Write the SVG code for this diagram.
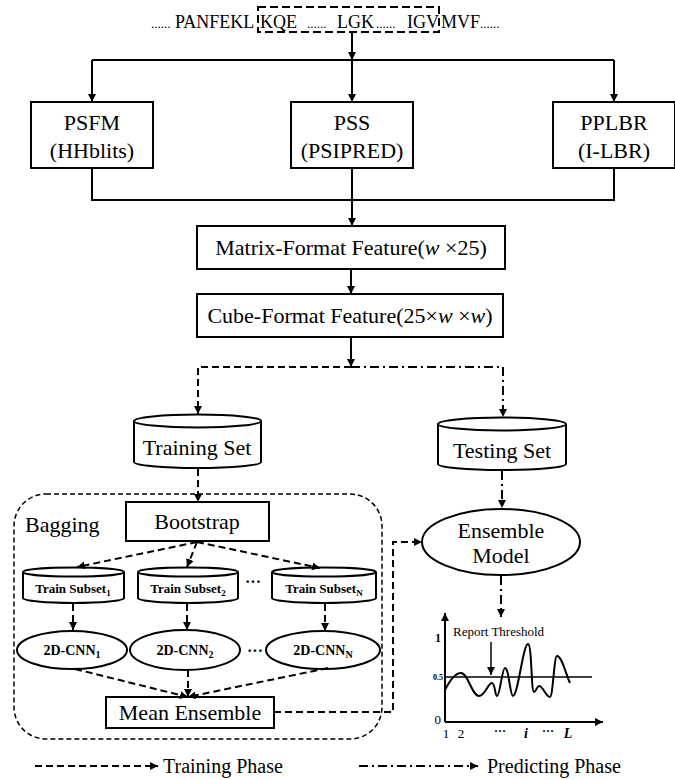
<svg xmlns="http://www.w3.org/2000/svg" width="675" height="780" viewBox="0 0 675 780">
<style>
text{font-family:"Liberation Serif","Times New Roman",serif;fill:#000}
.box{fill:#fff;stroke:#000;stroke-width:2}
.ln{fill:none;stroke:#000;stroke-width:2}
.dash{fill:none;stroke:#000;stroke-width:2;stroke-dasharray:7 4}
.dd{fill:none;stroke:#000;stroke-width:2;stroke-dasharray:9 4 2 4}
.t22{font-size:22px;text-anchor:middle}
.sb{font-size:13px;font-weight:bold;text-anchor:middle}
.cb{font-size:14px;font-weight:bold;text-anchor:middle}
</style>
<defs>
<marker id="ah" viewBox="0 0 10 10" refX="10" refY="5" markerWidth="8" markerHeight="8" markerUnits="userSpaceOnUse" orient="auto"><path d="M0,0 L10,5 L0,10 z" fill="#000"/></marker>
</defs>

<g id="sequence">
<text font-size="18" y="28"><tspan x="151" font-size="13">......</tspan><tspan x="175">PANFEKL</tspan><tspan x="260">KQE</tspan><tspan x="307" font-size="13">......</tspan><tspan x="337">LGK</tspan><tspan x="376" font-size="13">......</tspan><tspan x="407">IGV</tspan><tspan x="441">MVF</tspan><tspan x="480" font-size="13">......</tspan></text>
<rect x="258" y="7" width="181" height="25" fill="none" stroke="#000" stroke-width="2" stroke-dasharray="8 4"/>
</g>

<g id="psfm"><rect class="box" x="31" y="102" width="122" height="66"/><text class="t22" x="92" y="130">PSFM</text><text class="t22" x="92" y="158">(HHblits)</text></g>
<g id="pss"><rect class="box" x="291" y="102" width="122" height="66"/><text class="t22" x="352" y="130">PSS</text><text class="t22" x="352" y="158">(PSIPRED)</text></g>
<g id="pplbr"><rect class="box" x="553" y="102" width="122" height="66"/><text class="t22" x="614" y="130">PPLBR</text><text class="t22" x="614" y="158">(I-LBR)</text></g>

<g id="matrix"><rect class="box" x="197" y="226" width="308" height="43"/><text class="t22" x="351" y="255">Matrix-Format Feature(<tspan font-style="italic">w</tspan> ×25)</text></g>
<g id="cube"><rect class="box" x="197" y="294" width="306" height="43"/><text class="t22" x="350" y="323">Cube-Format Feature(25×<tspan font-style="italic">w</tspan> ×<tspan font-style="italic">w</tspan>)</text></g>

<g id="training-set">
<path class="box" d="M134,421 L134,462 A63.5,6 0 0 0 261,462 L261,421"/>
<ellipse class="box" cx="197.5" cy="421" rx="63.5" ry="6.5"/>
<text class="t22" x="197" y="455">Training Set</text>
</g>
<g id="testing-set">
<path class="box" d="M438,424 L438,464 A64,6 0 0 0 566,464 L566,424"/>
<ellipse class="box" cx="502" cy="424" rx="64" ry="6.5"/>
<text class="t22" x="502" y="458">Testing Set</text>
</g>

<g id="bagging">
<rect x="14" y="494" width="368" height="245" rx="32" ry="32" fill="none" stroke="#000" stroke-width="1.5" stroke-dasharray="5 3"/>
<text x="25" y="532" font-size="22">Bagging</text>
</g>
<g id="bootstrap"><rect class="box" x="126" y="502" width="143" height="39"/><text class="t22" x="197" y="529">Bootstrap</text></g>

<g id="subset1">
<path class="box" d="M23,572 L23,598 A50.5,5 0 0 0 124,598 L124,572"/>
<ellipse class="box" cx="73.5" cy="572" rx="50.5" ry="4.5"/>
<text class="sb" x="73" y="593">Train Subset<tspan font-size="9" dy="3">1</tspan></text>
</g>
<g id="subset2">
<path class="box" d="M138,572 L138,598 A50,5 0 0 0 238,598 L238,572"/>
<ellipse class="box" cx="188" cy="572" rx="50" ry="4.5"/>
<text class="sb" x="188" y="593">Train Subset<tspan font-size="9" dy="3">2</tspan></text>
</g>
<text x="253" y="587" font-size="16" font-weight="bold" text-anchor="middle">···</text>
<g id="subsetN">
<path class="box" d="M272,572 L272,598 A52,5 0 0 0 376,598 L376,572"/>
<ellipse class="box" cx="324" cy="572" rx="52" ry="4.5"/>
<text class="sb" x="324" y="593">Train Subset<tspan font-size="9" dy="3">N</tspan></text>
</g>

<g id="cnn1"><ellipse class="box" cx="72" cy="650" rx="55" ry="19"/><text class="cb" x="72" y="655">2D-CNN<tspan font-size="10" dy="3">1</tspan></text></g>
<g id="cnn2"><ellipse class="box" cx="185" cy="650" rx="55" ry="20"/><text class="cb" x="185" y="655">2D-CNN<tspan font-size="10" dy="3">2</tspan></text></g>
<text x="255" y="656" font-size="16" font-weight="bold" text-anchor="middle">···</text>
<g id="cnnN"><ellipse class="box" cx="323" cy="650" rx="57" ry="19"/><text class="cb" x="323" y="655">2D-CNN<tspan font-size="10" dy="3">N</tspan></text></g>

<g id="mean-ensemble"><rect class="box" x="106" y="697" width="168" height="31"/><text class="t22" x="190" y="720">Mean Ensemble</text></g>

<g id="ensemble-model"><ellipse class="box" cx="501" cy="542" rx="79" ry="33"/><text class="t22" x="501" y="538">Ensemble</text><text class="t22" x="501" y="563">Model</text></g>

<g id="chart">
<path class="ln" d="M445,722 L445,613" marker-end="url(#ah)"/>
<path class="ln" d="M445,722 L603,722" marker-end="url(#ah)"/>
<line x1="445" y1="677" x2="592" y2="677" stroke="#000" stroke-width="1.5"/>
<path fill="none" stroke="#000" stroke-width="2" d="M445,690 C450,680 455,673 461,673 C468,673 472,696 479,696 C485,696 488,683 492,683 C495,683 495,696 497,696 C500,696 502,668 505,668 C509,668 510,696 513,696 C518,696 523,644 528,644 C532,644 531,692 534,692 C536,692 537,686 539,686 C543,686 546,697 550,697 C553,697 554,656 557,656 C562,656 566,675 570,683"/>
<text x="453" y="636" font-size="13">Report Threshold</text>
<path d="M491,642 L491,675" stroke="#000" stroke-width="1.5" marker-end="url(#ah)"/>
<text x="441" y="642" font-size="12" font-weight="bold" text-anchor="end">1</text>
<text x="443" y="680" font-size="8" font-weight="bold" text-anchor="end">0.5</text>
<text x="441" y="724" font-size="13" text-anchor="end">0</text>
<text x="446" y="738" font-size="13" text-anchor="middle">1</text>
<text x="461" y="738" font-size="13" text-anchor="middle">2</text>
<text x="500" y="735" font-size="12" font-weight="bold" text-anchor="middle">···</text>
<text x="526" y="738" font-size="14" font-weight="bold" font-style="italic" text-anchor="middle">i</text>
<text x="548" y="735" font-size="12" font-weight="bold" text-anchor="middle">···</text>
<text x="568" y="738" font-size="14" font-weight="bold" font-style="italic" text-anchor="middle">L</text>
</g>

<g id="connectors">
<path class="ln" d="M352,32 L352,60" marker-end="url(#ah)"/>
<path class="ln" d="M92,60 L614,60"/>
<path class="ln" d="M92,60 L92,102" marker-end="url(#ah)"/>
<path class="ln" d="M352,60 L352,102" marker-end="url(#ah)"/>
<path class="ln" d="M614,60 L614,102" marker-end="url(#ah)"/>
<path class="ln" d="M92,168 L92,200 L614,200 L614,168"/>
<path class="ln" d="M352,168 L352,226" marker-end="url(#ah)"/>
<path class="ln" d="M351,269 L351,294" marker-end="url(#ah)"/>
<path class="ln" d="M351,337 L351,367" marker-end="url(#ah)"/>
<path class="dash" d="M351,367 L198,367 L198,414" marker-end="url(#ah)"/>
<path class="dd" d="M351,367 L503,367 L503,417" marker-end="url(#ah)"/>
<path class="dash" d="M198,469 L198,502" marker-end="url(#ah)"/>
<path class="dd" d="M502,471 L502,508" marker-end="url(#ah)"/>
<path class="dash" d="M197,542 L77,567" marker-end="url(#ah)"/>
<path class="dash" d="M197,542 L187,567" marker-end="url(#ah)"/>
<path class="dash" d="M197,542 L320,568" marker-end="url(#ah)"/>
<path class="dash" d="M73,604 L73,630" marker-end="url(#ah)"/>
<path class="dash" d="M187,604 L187,630" marker-end="url(#ah)"/>
<path class="dash" d="M325,604 L325,631" marker-end="url(#ah)"/>
<path class="dash" d="M75,669 L188,697" marker-end="url(#ah)"/>
<path class="dash" d="M188,670 L188,697" marker-end="url(#ah)"/>
<path class="dash" d="M328,668 L188,697" marker-end="url(#ah)"/>
<path class="dash" d="M274,712 L393,712 L393,542 L422,542" marker-end="url(#ah)"/>
<path class="dd" d="M501,576 L501,617" marker-end="url(#ah)"/>
</g>

<g id="legend">
<path class="dash" d="M35,766 L158,766" marker-end="url(#ah)"/>
<text x="163" y="773" font-size="20">Training Phase</text>
<path class="dd" d="M359,766 L478,766" marker-end="url(#ah)"/>
<text x="487" y="773" font-size="20">Predicting Phase</text>
</g>
</svg>
